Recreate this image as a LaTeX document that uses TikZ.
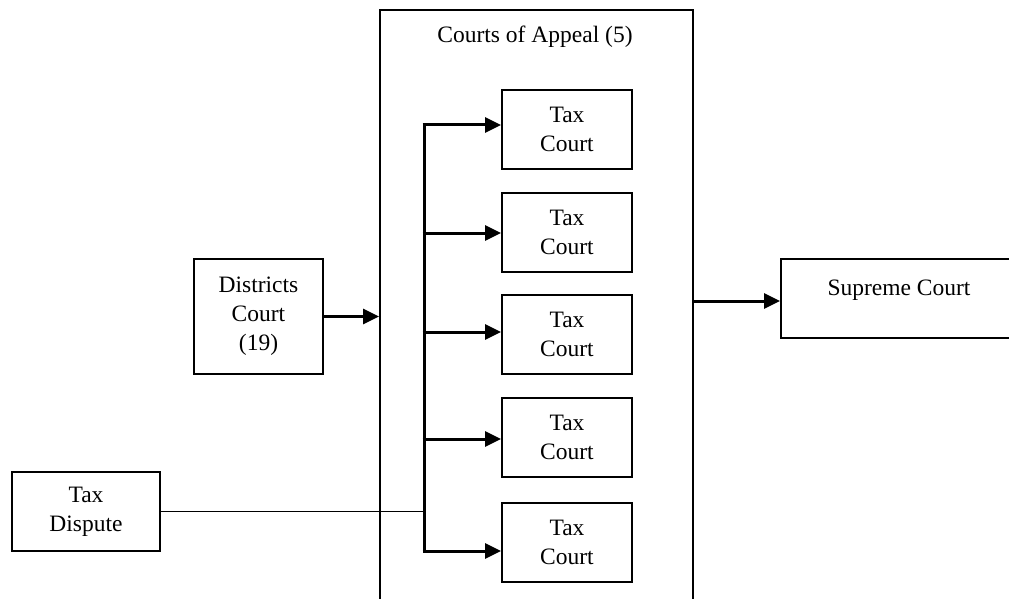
\documentclass[tikz,border=0pt]{standalone}
\usepackage{fontspec}
\setmainfont{Liberation Serif}
\usetikzlibrary{arrows.meta}
\begin{document}
\begin{tikzpicture}[x=1pt,y=-1pt,
  box/.style={draw, line width=2pt, align=center, inner sep=0pt,
    font=\fontsize{23.5}{29}\selectfont},
  tcbox/.style={box, minimum width=130, minimum height=79},
  thickarrow/.style={line width=3pt, -{Triangle[length=16pt,width=15pt]}},
  bus/.style={line width=3pt},
  thinline/.style={line width=1.7pt}]
\useasboundingbox (0,0) rectangle (1009,599);
\clip (0,0) rectangle (1009,599);
\fill[white] (0,0) rectangle (1009,599);
% container
\node[box, minimum width=313, minimum height=640, anchor=north west] (appeal) at (379,9) {};
\node[font=\fontsize{23.5}{29}\selectfont, anchor=base] (appealtxt) at (535,43) {Courts of Appeal (5)};
% tax courts
\node[tcbox] (tc1) at (567,129.5) {Tax\\Court};
\node[tcbox] (tc2) at (567,232) {Tax\\Court};
\node[tcbox] (tc3) at (567,334) {Tax\\Court};
\node[tcbox] (tc4) at (567,437) {Tax\\Court};
\node[tcbox] (tc5) at (567,542.5) {Tax\\Court};
% other boxes
\node[box, minimum width=129, minimum height=115] (dc) at (258.5,316.5) {Districts\\Court\\(19)};
\node[box, minimum width=148, minimum height=79] (td) at (86,511.5) {Tax\\Dispute};
\node[box, minimum width=236, minimum height=79, anchor=west] (sc) at (780,298.5) {Supreme Court\\[-8pt]\mbox{}};
% bus
\coordinate (a1) at (424,125);
\coordinate (a2) at (424,233);
\coordinate (a3) at (424,332);
\coordinate (a4) at (424,439);
\coordinate (a5) at (424,551);
\draw[bus] ([yshift=-1.5pt]a1) -- ([yshift=1.5pt]a5);
\foreach \i in {1,...,5} {
  \draw[thickarrow] ([xshift=-1.5pt]a\i) -- (a\i -| tc\i.west);
}
\draw[thinline] (td.east) -- (td.east -| a1);
\draw[thickarrow] (dc.east) -- (dc.east -| appeal.west);
\draw[thickarrow] (appeal.east |- 0,301) -- (sc.west |- 0,301);
\end{tikzpicture}
\end{document}
